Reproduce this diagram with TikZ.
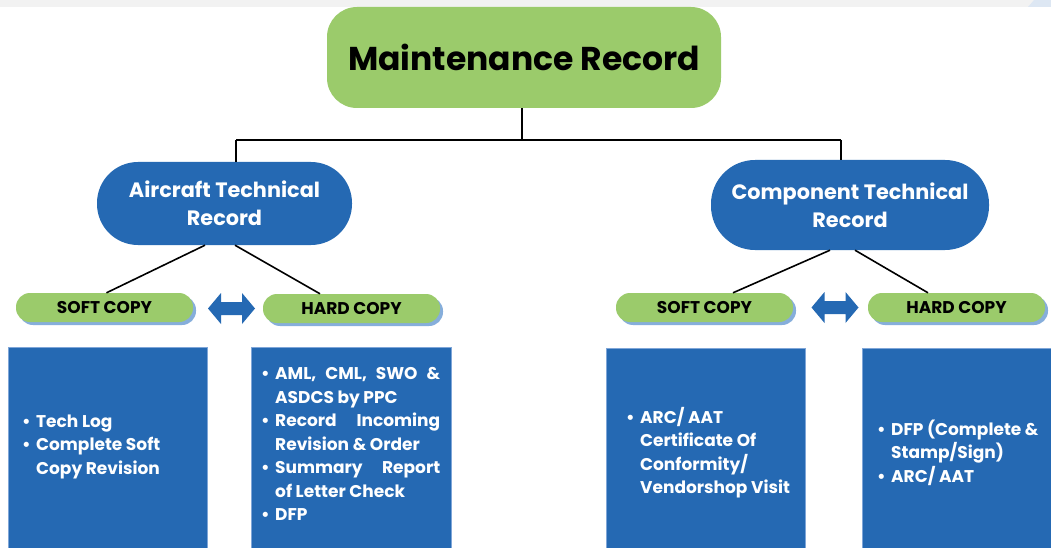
\documentclass[tikz,border=0pt]{standalone}
\usepackage{fontspec}
\setmainfont{Poppins}
\usepackage{array}
\usetikzlibrary{calc}
\definecolor{mgreen}{HTML}{9BCB6B}
\definecolor{mblue}{HTML}{2569B3}
\definecolor{mborder}{HTML}{7FA6D8}
\definecolor{mshadow}{HTML}{86AEDB}
\definecolor{topgray}{HTML}{F2F2F2}
\definecolor{toplblue}{HTML}{DDE7F3}
\tikzset{
  mainbox/.style={fill=mgreen, rounded corners=30pt, minimum width=394pt, minimum height=101pt, inner sep=0pt,
    font=\fontsize{33}{38}\selectfont\bfseries, text=black},
  recbox/.style={fill=mblue, inner sep=0pt, text=white, align=center,
    font=\fontsize{20.8}{28}\selectfont\bfseries},
  pill/.style={fill=mgreen, rounded corners=14pt, minimum width=177pt, minimum height=29pt, inner sep=0pt,
    font=\fontsize{17}{18}\selectfont\bfseries, text=black},
  pillshadow/.style={fill=mshadow, rounded corners=14pt},
  listbox/.style={fill=mblue, draw=mborder, line width=1pt},
  listtext/.style={text=white, inner sep=0pt, anchor=west,
    font=\fontsize{17}{23.5}\selectfont\bfseries},
  conn/.style={draw=black, line width=1.6pt},
  dblarrow/.style={fill=mblue},
}
\newcommand{\bul}{\makebox[14pt][l]{\textbullet}}
\begin{document}
\begin{tikzpicture}[x=1pt,y=-1pt]
\useasboundingbox (0,0) rectangle (1051,548);
\clip (0,0) rectangle (1051,548);
\fill[white] (0,0) rectangle (1051,548);
% top strip
\fill[topgray] (0,0) rectangle (1051,7);
\fill[toplblue] (1028,7) -- (1034,0) -- (1051,0) -- (1051,7) -- cycle;

% main node
\node[mainbox] (main) at (524,57.5) {Maintenance Record};

% record nodes
\node[recbox, minimum width=255pt, minimum height=83pt, rounded corners=41pt] (act) at (224.5,203.5)
  {Aircraft Technical\\Record};
\node[recbox, minimum width=278pt, minimum height=90pt, rounded corners=44pt] (cmp) at (850,205)
  {Component Technical\\Record};

% tree connectors
\coordinate (jA) at (236,140);
\coordinate (jC) at (841,140);
\coordinate (jM) at (522,140);
\draw[conn] (main.south -| jM) -- (jM);
\draw[conn] (jA) -- (jC);
\draw[conn] (jA) -- (jA |- act.north);
\draw[conn] (jC) -- (jC |- cmp.north);

% pills with shadows
\fill[pillshadow] (19,296) rectangle (196,325);
\node[pill] (softA) at (104.5,307.5) {SOFT COPY};
\fill[pillshadow] (266,297) rectangle (443,326);
\node[pill] (hardA) at (351.5,308.5) {HARD COPY};
\fill[pillshadow] (619,296) rectangle (796,325);
\node[pill] (softC) at (704.5,307.5) {SOFT COPY};
\fill[pillshadow] (871,296) rectangle (1048,325);
\node[pill] (hardC) at (956.5,307.5) {HARD COPY};

% diagonal connectors
\draw[conn] ($(act.south)+(-19.5,0)$) -- ($(softA.north)+(2,0)$);
\draw[conn] ($(act.south)+(10.5,0)$) -- ($(hardA.north)+(-31.5,0)$);
\draw[conn] ($(cmp.south)+(-20,0)$) -- ($(softC.north)+(28.5,0)$);
\draw[conn] ($(cmp.south)+(5,0)$) -- ($(hardC.north)+(-28.5,0)$);

% double arrows
\coordinate (arrA) at (231.5,308.5);
\coordinate (arrC) at (835,307.5);
\foreach \c in {arrA,arrC}{
  \fill[dblarrow, shift={(\c)}] (-23.5,0) -- (-10.5,-15.5) -- (-10.5,-6.5) -- (10.5,-6.5) -- (10.5,-15.5)
    -- (23.5,0) -- (10.5,15.5) -- (10.5,6.5) -- (-10.5,6.5) -- (-10.5,15.5) -- cycle;
}

% list boxes
\draw[listbox] (8,347) rectangle (207,560);
\draw[listbox] (251,347) rectangle (451,560);
\draw[listbox] (606,348) rectangle (805,560);
\draw[listbox] (862,348) rectangle (1060,560);

\node[listtext] (tA) at (22,446) {%
\begin{tabular}{@{}l@{}p{160pt}@{}}
\bul & Tech Log\\
\bul & Complete Soft\newline Copy Revision
\end{tabular}};

\node[listtext] (tB) at (261,445.5) {%
\begin{tabular}{@{}l@{}p{165pt}@{}}
\bul & AML,\hfill CML,\hfill SWO\hfill \&\newline ASDCS by PPC\\
\bul & Record\hfill Incoming\newline Revision \& Order\\
\bul & Summary\hfill Report\newline of Letter Check\\
\bul & DFP
\end{tabular}};

\node[listtext] (tC) at (626,454) {%
\begin{tabular}{@{}l@{}p{170pt}@{}}
\bul & ARC/ AAT\newline Certificate Of\newline Conformity/\newline Vendorshop Visit
\end{tabular}};

\node[listtext] (tD) at (877,454) {%
\begin{tabular}{@{}l@{}p{170pt}@{}}
\bul & DFP (Complete \&\newline Stamp/Sign)\\
\bul & ARC/ AAT
\end{tabular}};
\end{tikzpicture}
\end{document}
